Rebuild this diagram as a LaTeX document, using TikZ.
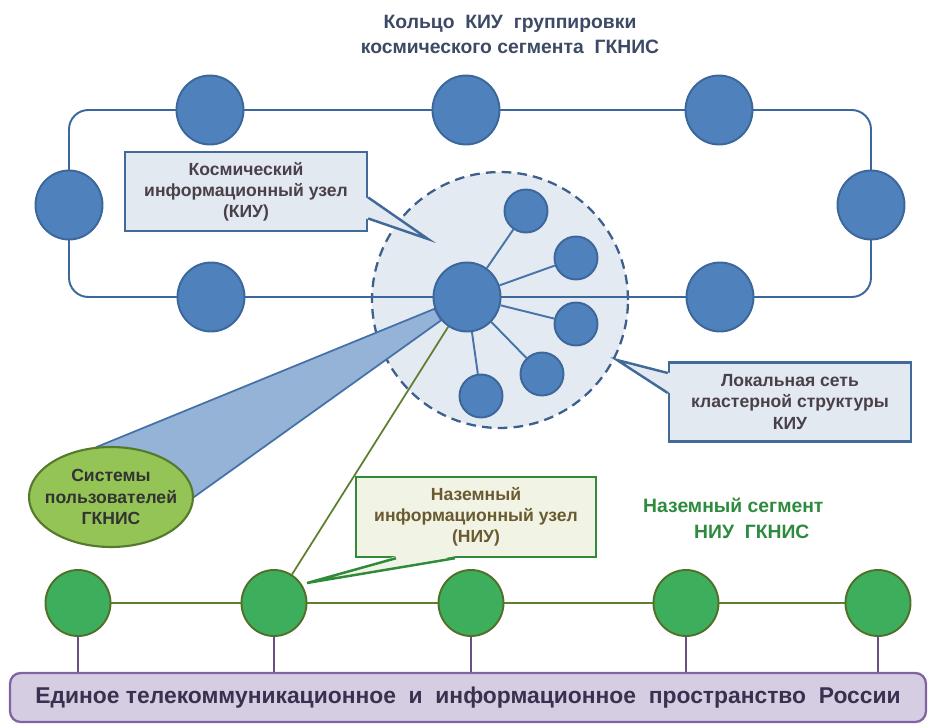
\documentclass[tikz,border=0pt]{standalone}
\usepackage{fontspec}
\setmainfont{Liberation Sans}
\usetikzlibrary{shapes.geometric,backgrounds,calc}

\definecolor{kiublue}{HTML}{4F81BD}
\definecolor{kiuedge}{HTML}{3B679B}
\definecolor{clusterfill}{HTML}{E4EAF1}
\definecolor{clusteredge}{HTML}{3C5F8C}
\definecolor{beamfill}{HTML}{95B3D7}
\definecolor{beamedge}{HTML}{4472A8}
\definecolor{userfill}{HTML}{94C356}
\definecolor{useredge}{HTML}{557A2C}
\definecolor{niufill}{HTML}{3DAE5B}
\definecolor{niuedge}{HTML}{52702B}
\definecolor{niuline}{HTML}{5E7F2F}
\definecolor{dropline}{HTML}{6A4F80}
\definecolor{barfill}{HTML}{D5CDE1}
\definecolor{baredge}{HTML}{8064A2}
\definecolor{notefill}{HTML}{E3E9F1}
\definecolor{noteedge}{HTML}{41699A}
\definecolor{greennotefill}{HTML}{F1F4E4}
\definecolor{greennoteedge}{HTML}{2F8A3A}
\definecolor{titletext}{HTML}{3C4A66}
\definecolor{notetext}{HTML}{4A4048}
\definecolor{greennotetext}{HTML}{6B5A30}
\definecolor{segtext}{HTML}{2D8A3E}
\definecolor{bartext}{HTML}{3A3050}

\tikzset{
  kiu/.style={ellipse, fill=kiublue, draw=kiuedge, line width=1.1pt,
    minimum width=1.34cm, minimum height=1.38cm, inner sep=0pt},
  sat/.style={circle, fill=kiublue, draw=kiuedge, line width=1.1pt,
    minimum size=0.86cm, inner sep=0pt},
  niu/.style={ellipse, fill=niufill, draw=niuedge, line width=1.1pt,
    minimum width=1.3cm, minimum height=1.32cm, inner sep=0pt},
  cluster/.style={circle, fill=clusterfill, draw=clusteredge, line width=1.3pt,
    dash pattern=on 5.5pt off 3.5pt, minimum size=5.12cm, inner sep=0pt},
  ring/.style={draw=kiuedge, line width=1.1pt},
  spoke/.style={draw=kiublue!90!black, line width=1.1pt},
  beam/.style={fill=beamfill, draw=beamedge, line width=1pt},
  uplink/.style={draw=niuline, line width=1pt},
  groundline/.style={draw=niuline, line width=1.3pt},
  drop/.style={draw=dropline, line width=1pt},
  note/.style={rectangle, fill=notefill, draw=noteedge, line width=1.4pt,
    minimum width=4.84cm, minimum height=1.58cm, align=center,
    font=\bfseries\fontsize{10}{12}\selectfont, text=notetext},
  greennote/.style={note, fill=greennotefill, draw=greennoteedge,
    minimum width=4.8cm, minimum height=1.6cm, text=greennotetext},
  users/.style={ellipse, fill=userfill, draw=useredge, line width=1.2pt,
    minimum width=3.28cm, minimum height=2cm, inner xsep=-7pt, inner ysep=-4pt,
    align=center, font=\bfseries\fontsize{10}{12}\selectfont, text=black!80},
  title/.style={align=center, font=\bfseries\fontsize{11}{14.2}\selectfont, text=titletext},
  seglabel/.style={font=\bfseries\fontsize{11}{14}\selectfont, text=segtext},
  bar/.style={rectangle, rounded corners=6pt, fill=barfill, draw=baredge, line width=1.3pt,
    minimum width=18.32cm, minimum height=0.98cm,
    font=\bfseries\fontsize{13}{15}\selectfont, text=bartext}
}

\begin{document}
\begin{tikzpicture}[x=0.02cm, y=-0.02cm]
\useasboundingbox (0,0) rectangle (934,727);

% title
\node[title] (title) at (510,34) {Кольцо\ \ КИУ\ \ группировки\\космического сегмента\ \ ГКНИС};

% ring of space nodes
\node[kiu] (kl) at (69,205) {};
\node[kiu] (kt1) at (210,110) {};
\node[kiu] (kt2) at (466,110) {};
\node[kiu] (kt3) at (719,110) {};
\node[kiu] (kr) at (871,205) {};
\node[kiu] (kb1) at (211,297) {};
\node[kiu] (kc) at (467,297) {};
\node[kiu] (kb2) at (720,297) {};

% local cluster
\node[sat] (s1) at (526,211) {};
\node[sat] (s2) at (576,258) {};
\node[sat] (s3) at (576,324) {};
\node[sat] (s4) at (542,374) {};
\node[sat] (s5) at (481,396) {};

% users
\node[users] (users) at (111,497) {Системы\\пользователей\\ГКНИС};

% ground nodes
\node[niu] (g1) at (78,603) {};
\node[niu] (g2) at (274,603) {};
\node[niu] (g3) at (471,603) {};
\node[niu] (g4) at (686,603) {};
\node[niu] (g5) at (878,603) {};

\node[bar] (bar) at (468,697.5) {Единое телекоммуникационное\ \ и\ \ информационное\ \ пространство\ \ России};

\node[seglabel, anchor=west] (seg1) at (637,505) {Наземный сегмент};
\node[seglabel, anchor=west] (seg2) at (688,532) {НИУ\ \ ГКНИС};

\begin{pgfonlayer}{background}
  \node[cluster] (cluster) at (500,300) {};
  \draw[ring, rounded corners=11pt] (kl.center) |- (kt1.center) -- (kt3.center)
    -| (kr.center) |- (kb2.center) -- (kb1.center) -| (kl.center) -- cycle;
  \foreach \s in {s1,s2,s3,s4,s5}
    \draw[spoke] (kc) -- (\s);
  \filldraw[beam] (kc.200) -- (users.105) -- (users.east) -- (kc.222) -- cycle;
  \draw[uplink] (kc) -- (g2);
  \draw[groundline] (g1) -- (g2) -- (g3) -- (g4) -- (g5);
  \draw[drop] (g1) -- (g1 |- bar.north);
  \draw[drop] (g2) -- (g2 |- bar.north);
  \draw[drop] (g3) -- (g3 |- bar.north);
  \draw[drop] (g4) -- (g4 |- bar.north);
  \draw[drop] (g5) -- (g5 |- bar.north);
\end{pgfonlayer}

% callouts
\node[note] (kiunote) at (246,191.5) {Космический\\информационный узел\\(КИУ)};
\coordinate (kiutip) at (428,239);
\fill[notefill] ($(kiunote.east)+(-2,6)$) -- (kiutip) -- ($(kiunote.east)+(-2,27)$) -- cycle;
\draw[noteedge, line width=1.4pt] ($(kiunote.east)+(0,6)$) -- (kiutip) -- ($(kiunote.east)+(0,27)$);

\node[note] (lannote) at (790,402) {Локальная сеть\\кластерной структуры\\КИУ};
\coordinate (lantip) at (617,360);
\fill[notefill] ($(lannote.west)+(2,-29)$) -- (lantip) -- ($(lannote.west)+(2,-9)$) -- cycle;
\draw[noteedge, line width=1.4pt] ($(lannote.west)+(0,-29)$) -- (lantip) -- ($(lannote.west)+(0,-9)$);

\node[greennote] (niunote) at (476,517) {Наземный\\информационный узел\\(НИУ)};
\coordinate (niutip) at (307,583);
\fill[greennotefill] ($(niunote.south)+(-80,-2)$) -- (niutip) -- ($(niunote.south)+(-21,-2)$) -- cycle;
\draw[greennoteedge, line width=1.4pt] ($(niunote.south)+(-80,0)$) -- (niutip) -- ($(niunote.south)+(-21,0)$);
\end{tikzpicture}
\end{document}
